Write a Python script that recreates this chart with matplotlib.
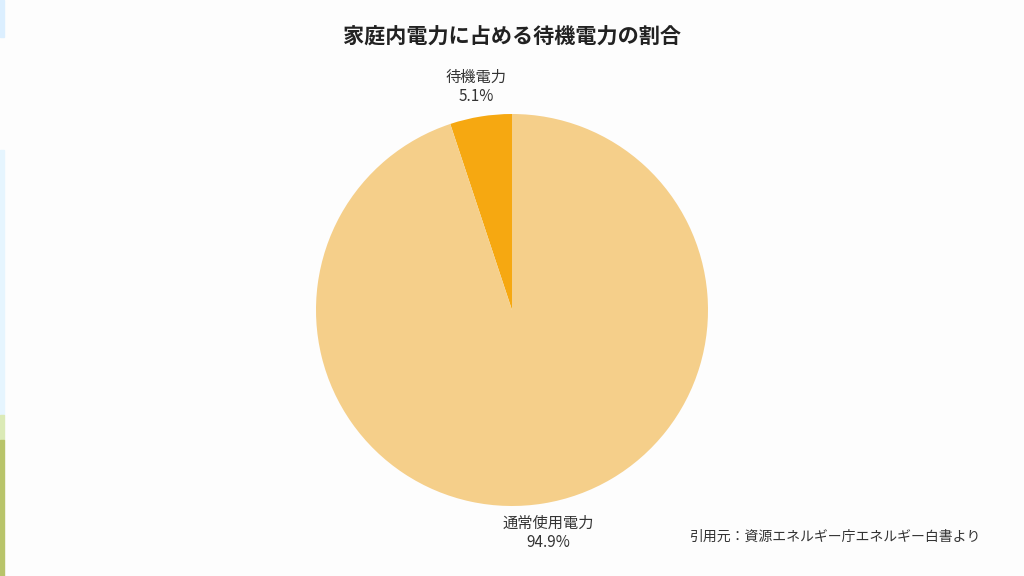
import matplotlib
matplotlib.use("Agg")
import matplotlib.pyplot as plt
from matplotlib.patches import Rectangle

plt.rcParams['font.family'] = ['Noto Sans CJK JP', 'DejaVu Sans']

labels = ['待機電力', '通常使用電力']
values = [5.1, 94.9]
colors = ['#f6a811', '#f5cf8a']
title = '家庭内電力に占める待機電力の割合'
source = '引用元：資源エネルギー庁エネルギー白書より'

fig = plt.figure(figsize=(10.24, 5.76), dpi=100)
fig.patch.set_facecolor('#fdfdfd')

# left edge decoration strips
for y0, y1, c in [(0, 37, '#dcefff'), (150, 415, '#e6f5fe'),
                  (415, 440, '#dbeab6'), (440, 576, '#b8c46a')]:
    fig.patches.append(Rectangle((0, 1 - y1 / 576), 4 / 1024, (y1 - y0) / 576,
                                 transform=fig.transFigure, color=c, zorder=0))

ax = fig.add_axes([0, 0, 1, 1])
ax.set_aspect('equal')

texts = [f'{l}\n{v}%' for l, v in zip(labels, values)]
wedges, lbls = ax.pie(values, labels=texts, colors=colors, startangle=90,
                      counterclock=True, center=(512, 266), radius=196,
                      labeldistance=1.153, frame=True,
                      textprops=dict(fontsize=11, color='#333333', linespacing=1.2))
for t in lbls:
    t.set_ha('center')
    t.set_va('center')
ax.set_xlim(0, 1024)
ax.set_ylim(0, 576)
ax.axis('off')

fig.text(0.5, 1 - 37 / 576, title, ha='center', va='center',
         fontsize=15.2, fontweight='bold', color='#222222')
fig.text(980 / 1024, 1 - 537 / 576, source, ha='right', va='center',
         fontsize=10, color='#333333')

fig.savefig('out.png', dpi=100, facecolor=fig.get_facecolor())
